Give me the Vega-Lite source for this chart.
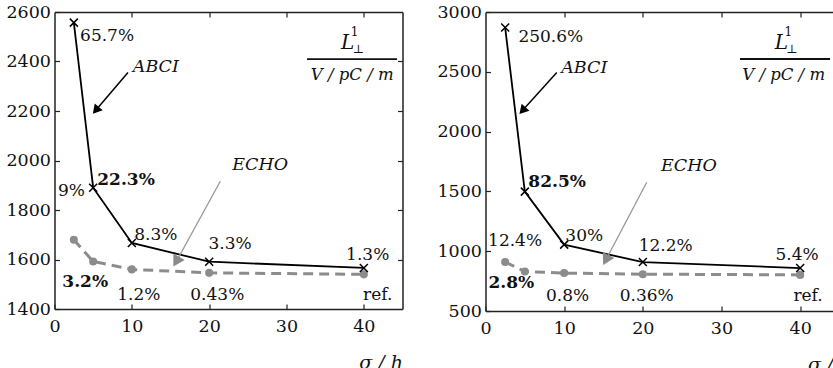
{
  "$schema": "https://vega.github.io/schema/vega-lite/v6.json",
  "padding": {"left": 5.5, "top": 3, "right": 0, "bottom": 0},
  "spacing": 83,
  "bounds": "flush",
  "config": {
    "view": {"stroke": null},
    "font": "DejaVu Serif",
    "axis": {"labelFont": "DejaVu Serif", "labelFontSize": 17.5, "labelColor": "#111", "domainColor": "#222", "domainWidth": 1.5, "tickColor": "#222", "tickSize": -5, "tickWidth": 1.2, "grid": false, "titleFont": "DejaVu Serif", "labelFlush": false, "labelOverlap": false, "titleColor": "#111", "format": "d"},
    "text": {"font": "DejaVu Serif", "fontSize": 17, "color": "#111"}
  },
  "datasets": {
    "abciL": [{"x": 2.5, "y": 2557}, {"x": 5, "y": 1890}, {"x": 10, "y": 1667}, {"x": 20, "y": 1591}, {"x": 40, "y": 1566}],
    "echoL": [{"x": 2.5, "y": 1680}, {"x": 5, "y": 1592}, {"x": 10, "y": 1560}, {"x": 20, "y": 1546}, {"x": 40, "y": 1540}],
    "abciR": [{"x": 2.5, "y": 2870}, {"x": 5, "y": 1498}, {"x": 10, "y": 1055}, {"x": 20, "y": 909}, {"x": 40, "y": 859}],
    "echoR": [{"x": 2.5, "y": 909}, {"x": 5, "y": 830}, {"x": 10, "y": 817}, {"x": 20, "y": 808}, {"x": 40, "y": 802}],
    "normL": [{"x": 6.8, "y": 2505, "t": "65.7%"}, {"x": 2.2, "y": 1875, "t": "9%"}, {"x": 13.1, "y": 1700, "t": "8.3%"}, {"x": 22.7, "y": 1661, "t": "3.3%"}, {"x": 40.5, "y": 1620, "t": "1.3%"}, {"x": 10.9, "y": 1458, "t": "1.2%"}, {"x": 21.05, "y": 1458, "t": "0.43%"}, {"x": 41.8, "y": 1458, "t": "ref."}],
    "boldL": [{"x": 9.25, "y": 1920, "t": "22.3%"}, {"x": 3.97, "y": 1509, "t": "3.2%"}],
    "italL": [{"x": 13.1, "y": 2379, "t": "ABCI"}, {"x": 26.6, "y": 1980, "t": "ECHO"}],
    "fracL": [{"x": 38.5, "y": 2347, "t": "V / pC / m"}],
    "bigL": [{"x": 37.9, "y": 2475, "t": "L"}],
    "smallL": [{"x": 38.8, "y": 2519, "t": "1"}, {"x": 39.3, "y": 2449, "t": "⊥"}],
    "barL": [{"x": 32.65, "x2": 44.3, "y": 2410}],
    "arrowAL": [{"x": 9.5, "y": 2356, "x2": 5.34, "y2": 2203}],
    "headAL": [{"x": 5.34, "y": 2203}],
    "arrowEL": [{"x": 21.44, "y": 1916, "x2": 15.74, "y2": 1591}],
    "headEL": [{"x": 15.74, "y": 1591}],
    "normR": [{"x": 8.3, "y": 2792, "t": "250.6%"}, {"x": 3.76, "y": 1088, "t": "12.4%"}, {"x": 12.55, "y": 1124, "t": "30%"}, {"x": 22.9, "y": 1046, "t": "12.2%"}, {"x": 39.6, "y": 965, "t": "5.4%"}, {"x": 10.43, "y": 626, "t": "0.8%"}, {"x": 20.5, "y": 626, "t": "0.36%"}, {"x": 41.0, "y": 626, "t": "ref."}],
    "boldR": [{"x": 9.1, "y": 1578, "t": "82.5%"}, {"x": 3.28, "y": 733, "t": "2.8%"}],
    "italR": [{"x": 12.55, "y": 2531, "t": "ABCI"}, {"x": 25.85, "y": 1713, "t": "ECHO"}],
    "fracR": [{"x": 37.9, "y": 2475, "t": "V / pC / m"}],
    "bigR": [{"x": 37.6, "y": 2741, "t": "L"}],
    "smallR": [{"x": 38.5, "y": 2832, "t": "1"}, {"x": 38.96, "y": 2687, "t": "⊥"}],
    "barR": [{"x": 32.35, "x2": 43.8, "y": 2607}],
    "arrowAR": [{"x": 9.06, "y": 2494, "x2": 4.7, "y2": 2176}],
    "headAR": [{"x": 4.7, "y": 2176}],
    "arrowER": [{"x": 20.5, "y": 1576, "x2": 15.3, "y2": 927}],
    "headER": [{"x": 15.3, "y": 927}]
  },
  "hconcat": [
    {
      "width": 348,
      "height": 297,
      "resolve": {"axis": {"x": "independent", "y": "independent"}},
      "layer": [
        {
          "data": {"name": "abciL"},
          "mark": {"type": "line", "color": "#000", "strokeWidth": 1.8},
          "encoding": {
            "x": {"field": "x", "type": "quantitative", "scale": {"domain": [0, 45], "nice": false, "zero": false}, "axis": {"orient": "bottom", "values": [0, 10, 20, 30, 40], "title": "σ / h", "titleFontStyle": "italic", "titleFontWeight": "normal", "titleFontSize": 19, "titleAlign": "right", "titleBaseline": "alphabetic", "titleY": 59, "titleX": 348, "labelPadding": 13}},
            "y": {"field": "y", "type": "quantitative", "scale": {"domain": [1400, 2600], "nice": false, "zero": false}, "axis": {"orient": "left", "values": [1400, 1600, 1800, 2000, 2200, 2400, 2600], "title": null, "labelPadding": 9}}
          }
        },
        {
          "data": {"name": "echoL"},
          "mark": {"type": "line", "color": "#8c8c8c", "strokeWidth": 3, "strokeDash": [10, 6]},
          "encoding": {
            "x": {"field": "x", "type": "quantitative", "scale": {"domain": [0, 45], "nice": false, "zero": false}, "axis": {"orient": "top", "values": [10, 20, 30, 40], "labels": false, "title": null}},
            "y": {"field": "y", "type": "quantitative", "scale": {"domain": [1400, 2600], "nice": false, "zero": false}, "axis": {"orient": "right", "values": [1600, 1800, 2000, 2200, 2400], "labels": false, "title": null}}
          }
        },
        {
          "data": {"name": "echoL"},
          "mark": {"type": "point", "shape": "circle", "filled": true, "color": "#8c8c8c", "opacity": 1, "size": 65},
          "encoding": {
            "x": {"field": "x", "type": "quantitative", "scale": {"domain": [0, 45], "nice": false, "zero": false}, "axis": null},
            "y": {"field": "y", "type": "quantitative", "scale": {"domain": [1400, 2600], "nice": false, "zero": false}, "axis": null}
          }
        },
        {
          "data": {"name": "abciL"},
          "mark": {"type": "point", "shape": "M-1,-1L1,1M-1,1L1,-1", "filled": false, "color": "#000", "opacity": 1, "size": 64, "strokeWidth": 1.5},
          "encoding": {
            "x": {"field": "x", "type": "quantitative", "scale": {"domain": [0, 45], "nice": false, "zero": false}, "axis": null},
            "y": {"field": "y", "type": "quantitative", "scale": {"domain": [1400, 2600], "nice": false, "zero": false}, "axis": null}
          }
        },
        {
          "data": {"name": "arrowAL"},
          "mark": {"type": "rule", "color": "#000", "strokeWidth": 1.5},
          "encoding": {
            "x": {"field": "x", "type": "quantitative", "scale": {"domain": [0, 45], "nice": false, "zero": false}, "axis": null},
            "y": {"field": "y", "type": "quantitative", "scale": {"domain": [1400, 2600], "nice": false, "zero": false}, "axis": null},
            "x2": {"field": "x2"},
            "y2": {"field": "y2"}
          }
        },
        {
          "data": {"name": "headAL"},
          "mark": {"type": "point", "shape": "triangle-up", "filled": true, "color": "#000", "opacity": 1, "size": 110, "angle": 220},
          "encoding": {
            "x": {"field": "x", "type": "quantitative", "scale": {"domain": [0, 45], "nice": false, "zero": false}, "axis": null},
            "y": {"field": "y", "type": "quantitative", "scale": {"domain": [1400, 2600], "nice": false, "zero": false}, "axis": null}
          }
        },
        {
          "data": {"name": "arrowEL"},
          "mark": {"type": "rule", "color": "#999", "strokeWidth": 1.3},
          "encoding": {
            "x": {"field": "x", "type": "quantitative", "scale": {"domain": [0, 45], "nice": false, "zero": false}, "axis": null},
            "y": {"field": "y", "type": "quantitative", "scale": {"domain": [1400, 2600], "nice": false, "zero": false}, "axis": null},
            "x2": {"field": "x2"},
            "y2": {"field": "y2"}
          }
        },
        {
          "data": {"name": "headEL"},
          "mark": {"type": "point", "shape": "triangle-up", "filled": true, "color": "#8a8a8a", "opacity": 1, "size": 170, "angle": 210},
          "encoding": {
            "x": {"field": "x", "type": "quantitative", "scale": {"domain": [0, 45], "nice": false, "zero": false}, "axis": null},
            "y": {"field": "y", "type": "quantitative", "scale": {"domain": [1400, 2600], "nice": false, "zero": false}, "axis": null}
          }
        },
        {
          "data": {"name": "barL"},
          "mark": {"type": "rule", "color": "#111", "strokeWidth": 1.8},
          "encoding": {
            "x": {"field": "x", "type": "quantitative", "scale": {"domain": [0, 45], "nice": false, "zero": false}, "axis": null},
            "x2": {"field": "x2"},
            "y": {"field": "y", "type": "quantitative", "scale": {"domain": [1400, 2600], "nice": false, "zero": false}, "axis": null}
          }
        },
        {
          "data": {"name": "normL"},
          "mark": {"type": "text", "align": "center", "baseline": "middle"},
          "encoding": {
            "x": {"field": "x", "type": "quantitative", "scale": {"domain": [0, 45], "nice": false, "zero": false}, "axis": null},
            "y": {"field": "y", "type": "quantitative", "scale": {"domain": [1400, 2600], "nice": false, "zero": false}, "axis": null},
            "text": {"field": "t"}
          }
        },
        {
          "data": {"name": "boldL"},
          "mark": {"type": "text", "align": "center", "baseline": "middle", "fontWeight": "bold"},
          "encoding": {
            "x": {"field": "x", "type": "quantitative", "scale": {"domain": [0, 45], "nice": false, "zero": false}, "axis": null},
            "y": {"field": "y", "type": "quantitative", "scale": {"domain": [1400, 2600], "nice": false, "zero": false}, "axis": null},
            "text": {"field": "t"}
          }
        },
        {
          "data": {"name": "italL"},
          "mark": {"type": "text", "align": "center", "baseline": "middle", "fontStyle": "italic", "fontSize": 17.5},
          "encoding": {
            "x": {"field": "x", "type": "quantitative", "scale": {"domain": [0, 45], "nice": false, "zero": false}, "axis": null},
            "y": {"field": "y", "type": "quantitative", "scale": {"domain": [1400, 2600], "nice": false, "zero": false}, "axis": null},
            "text": {"field": "t"}
          }
        },
        {
          "data": {"name": "fracL"},
          "mark": {"type": "text", "align": "center", "baseline": "middle", "fontStyle": "italic", "fontSize": 16.5},
          "encoding": {
            "x": {"field": "x", "type": "quantitative", "scale": {"domain": [0, 45], "nice": false, "zero": false}, "axis": null},
            "y": {"field": "y", "type": "quantitative", "scale": {"domain": [1400, 2600], "nice": false, "zero": false}, "axis": null},
            "text": {"field": "t"}
          }
        },
        {
          "data": {"name": "bigL"},
          "mark": {"type": "text", "align": "center", "baseline": "middle", "fontStyle": "italic", "fontSize": 20},
          "encoding": {
            "x": {"field": "x", "type": "quantitative", "scale": {"domain": [0, 45], "nice": false, "zero": false}, "axis": null},
            "y": {"field": "y", "type": "quantitative", "scale": {"domain": [1400, 2600], "nice": false, "zero": false}, "axis": null},
            "text": {"field": "t"}
          }
        },
        {
          "data": {"name": "smallL"},
          "mark": {"type": "text", "align": "center", "baseline": "middle", "fontSize": 12},
          "encoding": {
            "x": {"field": "x", "type": "quantitative", "scale": {"domain": [0, 45], "nice": false, "zero": false}, "axis": null},
            "y": {"field": "y", "type": "quantitative", "scale": {"domain": [1400, 2600], "nice": false, "zero": false}, "axis": null},
            "text": {"field": "t"}
          }
        }
      ]
    },
    {
      "width": 354,
      "height": 299,
      "resolve": {"axis": {"x": "independent", "y": "independent"}},
      "layer": [
        {
          "data": {"name": "abciR"},
          "mark": {"type": "line", "color": "#000", "strokeWidth": 1.8},
          "encoding": {
            "x": {"field": "x", "type": "quantitative", "scale": {"domain": [0, 45], "nice": false, "zero": false}, "axis": {"orient": "bottom", "values": [0, 10, 20, 30, 40], "title": "σ / h", "titleFontStyle": "italic", "titleFontWeight": "normal", "titleFontSize": 19, "titleAlign": "left", "titleBaseline": "alphabetic", "titleY": 59, "titleX": 322, "labelPadding": 13}},
            "y": {"field": "y", "type": "quantitative", "scale": {"domain": [500, 3000], "nice": false, "zero": false}, "axis": {"orient": "left", "values": [500, 1000, 1500, 2000, 2500, 3000], "title": null, "labelPadding": 9}}
          }
        },
        {
          "data": {"name": "echoR"},
          "mark": {"type": "line", "color": "#8c8c8c", "strokeWidth": 3, "strokeDash": [10, 6]},
          "encoding": {
            "x": {"field": "x", "type": "quantitative", "scale": {"domain": [0, 45], "nice": false, "zero": false}, "axis": {"orient": "top", "values": [10, 20, 30, 40], "labels": false, "title": null}},
            "y": {"field": "y", "type": "quantitative", "scale": {"domain": [500, 3000], "nice": false, "zero": false}, "axis": {"orient": "right", "values": [1000, 1500, 2000, 2500], "labels": false, "title": null}}
          }
        },
        {
          "data": {"name": "echoR"},
          "mark": {"type": "point", "shape": "circle", "filled": true, "color": "#8c8c8c", "opacity": 1, "size": 65},
          "encoding": {
            "x": {"field": "x", "type": "quantitative", "scale": {"domain": [0, 45], "nice": false, "zero": false}, "axis": null},
            "y": {"field": "y", "type": "quantitative", "scale": {"domain": [500, 3000], "nice": false, "zero": false}, "axis": null}
          }
        },
        {
          "data": {"name": "abciR"},
          "mark": {"type": "point", "shape": "M-1,-1L1,1M-1,1L1,-1", "filled": false, "color": "#000", "opacity": 1, "size": 64, "strokeWidth": 1.5},
          "encoding": {
            "x": {"field": "x", "type": "quantitative", "scale": {"domain": [0, 45], "nice": false, "zero": false}, "axis": null},
            "y": {"field": "y", "type": "quantitative", "scale": {"domain": [500, 3000], "nice": false, "zero": false}, "axis": null}
          }
        },
        {
          "data": {"name": "arrowAR"},
          "mark": {"type": "rule", "color": "#000", "strokeWidth": 1.5},
          "encoding": {
            "x": {"field": "x", "type": "quantitative", "scale": {"domain": [0, 45], "nice": false, "zero": false}, "axis": null},
            "y": {"field": "y", "type": "quantitative", "scale": {"domain": [500, 3000], "nice": false, "zero": false}, "axis": null},
            "x2": {"field": "x2"},
            "y2": {"field": "y2"}
          }
        },
        {
          "data": {"name": "headAR"},
          "mark": {"type": "point", "shape": "triangle-up", "filled": true, "color": "#000", "opacity": 1, "size": 110, "angle": 222},
          "encoding": {
            "x": {"field": "x", "type": "quantitative", "scale": {"domain": [0, 45], "nice": false, "zero": false}, "axis": null},
            "y": {"field": "y", "type": "quantitative", "scale": {"domain": [500, 3000], "nice": false, "zero": false}, "axis": null}
          }
        },
        {
          "data": {"name": "arrowER"},
          "mark": {"type": "rule", "color": "#999", "strokeWidth": 1.3},
          "encoding": {
            "x": {"field": "x", "type": "quantitative", "scale": {"domain": [0, 45], "nice": false, "zero": false}, "axis": null},
            "y": {"field": "y", "type": "quantitative", "scale": {"domain": [500, 3000], "nice": false, "zero": false}, "axis": null},
            "x2": {"field": "x2"},
            "y2": {"field": "y2"}
          }
        },
        {
          "data": {"name": "headER"},
          "mark": {"type": "point", "shape": "triangle-up", "filled": true, "color": "#8a8a8a", "opacity": 1, "size": 170, "angle": 208},
          "encoding": {
            "x": {"field": "x", "type": "quantitative", "scale": {"domain": [0, 45], "nice": false, "zero": false}, "axis": null},
            "y": {"field": "y", "type": "quantitative", "scale": {"domain": [500, 3000], "nice": false, "zero": false}, "axis": null}
          }
        },
        {
          "data": {"name": "barR"},
          "mark": {"type": "rule", "color": "#111", "strokeWidth": 1.8},
          "encoding": {
            "x": {"field": "x", "type": "quantitative", "scale": {"domain": [0, 45], "nice": false, "zero": false}, "axis": null},
            "x2": {"field": "x2"},
            "y": {"field": "y", "type": "quantitative", "scale": {"domain": [500, 3000], "nice": false, "zero": false}, "axis": null}
          }
        },
        {
          "data": {"name": "normR"},
          "mark": {"type": "text", "align": "center", "baseline": "middle"},
          "encoding": {
            "x": {"field": "x", "type": "quantitative", "scale": {"domain": [0, 45], "nice": false, "zero": false}, "axis": null},
            "y": {"field": "y", "type": "quantitative", "scale": {"domain": [500, 3000], "nice": false, "zero": false}, "axis": null},
            "text": {"field": "t"}
          }
        },
        {
          "data": {"name": "boldR"},
          "mark": {"type": "text", "align": "center", "baseline": "middle", "fontWeight": "bold"},
          "encoding": {
            "x": {"field": "x", "type": "quantitative", "scale": {"domain": [0, 45], "nice": false, "zero": false}, "axis": null},
            "y": {"field": "y", "type": "quantitative", "scale": {"domain": [500, 3000], "nice": false, "zero": false}, "axis": null},
            "text": {"field": "t"}
          }
        },
        {
          "data": {"name": "italR"},
          "mark": {"type": "text", "align": "center", "baseline": "middle", "fontStyle": "italic", "fontSize": 17.5},
          "encoding": {
            "x": {"field": "x", "type": "quantitative", "scale": {"domain": [0, 45], "nice": false, "zero": false}, "axis": null},
            "y": {"field": "y", "type": "quantitative", "scale": {"domain": [500, 3000], "nice": false, "zero": false}, "axis": null},
            "text": {"field": "t"}
          }
        },
        {
          "data": {"name": "fracR"},
          "mark": {"type": "text", "align": "center", "baseline": "middle", "fontStyle": "italic", "fontSize": 16.5},
          "encoding": {
            "x": {"field": "x", "type": "quantitative", "scale": {"domain": [0, 45], "nice": false, "zero": false}, "axis": null},
            "y": {"field": "y", "type": "quantitative", "scale": {"domain": [500, 3000], "nice": false, "zero": false}, "axis": null},
            "text": {"field": "t"}
          }
        },
        {
          "data": {"name": "bigR"},
          "mark": {"type": "text", "align": "center", "baseline": "middle", "fontStyle": "italic", "fontSize": 20},
          "encoding": {
            "x": {"field": "x", "type": "quantitative", "scale": {"domain": [0, 45], "nice": false, "zero": false}, "axis": null},
            "y": {"field": "y", "type": "quantitative", "scale": {"domain": [500, 3000], "nice": false, "zero": false}, "axis": null},
            "text": {"field": "t"}
          }
        },
        {
          "data": {"name": "smallR"},
          "mark": {"type": "text", "align": "center", "baseline": "middle", "fontSize": 12},
          "encoding": {
            "x": {"field": "x", "type": "quantitative", "scale": {"domain": [0, 45], "nice": false, "zero": false}, "axis": null},
            "y": {"field": "y", "type": "quantitative", "scale": {"domain": [500, 3000], "nice": false, "zero": false}, "axis": null},
            "text": {"field": "t"}
          }
        }
      ]
    }
  ]
}
